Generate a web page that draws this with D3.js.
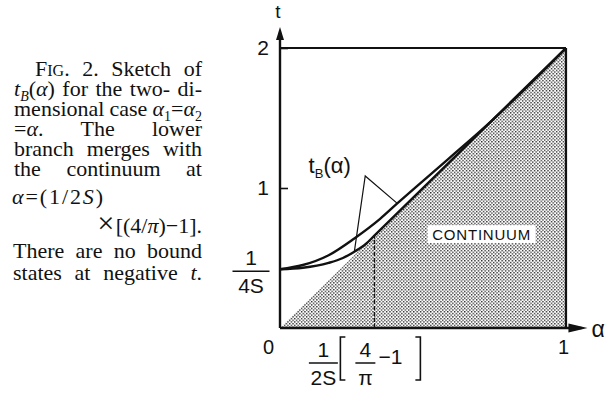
<!DOCTYPE html>
<html>
<head>
<meta charset="utf-8">
<script src="https://cdn.jsdelivr.net/npm/d3@7"></script>
<style>
  body { margin: 0; background: #fff; }
  svg { display: block; }
  .cap { font-family: "Liberation Serif", serif; font-size: 22px; fill: #111; }
  .lab { font-family: "Liberation Sans", sans-serif; fill: #111; }
</style>
</head>
<body>
<div id="wrapper"></div>
<script>
// upper branch of t_B(alpha)
const upperAlpha = [0, 0.08, 0.17, 0.26, 0.35, 0.41, 0.59, 0.74, 1];
const upperT     = [0.42, 0.45, 0.52, 0.64, 0.78, 0.89, 1.21, 1.48, 2];
// lower branch, runs into the continuum edge at alpha = 0.33
const lowerAlpha = [0, 0.08, 0.17, 0.22, 0.26, 0.30, 0.33, 1];
const lowerT     = [0.42, 0.43, 0.465, 0.50, 0.545, 0.60, 0.66, 2];
// continuum edge
const edgeAlpha = [0, 1];
const edgeT     = [0, 2];
const mergeAlpha = 0.33;
const quarterS = 0.42;   // 1/4S level
const xTicks = [0, 1];
const yTicks = [1, 2];

// caption, one entry per printed line; each word is a list of [text, style]
const caption = [
  { x0: 35, x1: 202, y: 76, words: [[["F", ""], ["IG", "sc"], [".", ""]], [["2.", ""]], [["Sketch", ""]], [["of", ""]]] },
  { x0: 14, x1: 202, y: 96, words: [[["t", "i"], ["B", "isub"], ["(", ""], ["α", "i"], [")", ""]], [["for", ""]], [["the", ""]], [["two-", ""]], [["di-", ""]]] },
  { x0: 14, x1: 202, y: 116, words: [[["mensional", ""]], [["case", ""]], [["α", "i"], ["1", "sub"], ["=", ""], ["α", "i"], ["2", "sub"]]] },
  { x0: 14, x1: 202, y: 136, words: [[["=", ""], ["α", "i"], [".", ""]], [["The", ""]], [["lower", ""]]] },
  { x0: 14, x1: 202, y: 156, words: [[["branch", ""]], [["merges", ""]], [["with", ""]]] },
  { x0: 14, x1: 202, y: 176, words: [[["the", ""]], [["continuum", ""]], [["at", ""]]] },
  { x0: 12, x1: 103, y: 204, words: [[["α", "i"], ["=(1/2", ""], ["S", "i"], [")", ""]]] },
  { x0: null, x1: 202, y: 233, words: [[["×", "big"], ["[(4/", ""], ["π", "i"], [")−1].", ""]]] },
  { x0: 13, x1: 202, y: 258, words: [[["There", ""]], [["are", ""]], [["no", ""]], [["bound", ""]]] },
  { x0: 13, x1: 202, y: 280, words: [[["states", ""]], [["at", ""]], [["negative", ""]], [["t", "i"], [".", ""]]] }
];

const W = 616, H = 393;
const svg = d3.select("#wrapper").append("svg").attr("width", W).attr("height", H);

const x = d3.scaleLinear().domain([0, 1]).range([280, 566]);
const y = d3.scaleLinear().domain([0, 2]).range([328, 48]);

// dotted pattern for the continuum
const defs = svg.append("defs");
const pat = defs.append("pattern").attr("id", "dots")
  .attr("width", 3.4).attr("height", 3.4).attr("patternUnits", "userSpaceOnUse");
pat.append("rect").attr("x", 0).attr("y", 0).attr("width", 1.35).attr("height", 1.35).attr("fill", "#222");
pat.append("rect").attr("x", 1.7).attr("y", 1.7).attr("width", 1.35).attr("height", 1.35).attr("fill", "#222");

const chart = svg.append("g");

// continuum area
const area = d3.area().x(d => x(d[0])).y0(y(0)).y1(d => y(d[1]));
chart.append("path")
  .attr("d", area(d3.zip(edgeAlpha, edgeT)))
  .attr("fill", "url(#dots)");

// frame: top at t=2 and right at alpha=1
chart.append("line").attr("x1", x(0)).attr("x2", x(1)).attr("y1", y(2)).attr("y2", y(2))
  .attr("stroke", "#111").attr("stroke-width", 2);
chart.append("line").attr("x1", x(1)).attr("x2", x(1)).attr("y1", y(0)).attr("y2", y(2))
  .attr("stroke", "#111").attr("stroke-width", 2.2);

// dashed line at merge point
chart.append("line")
  .attr("x1", x(mergeAlpha)).attr("x2", x(mergeAlpha))
  .attr("y1", y(0)).attr("y2", y(2 * mergeAlpha))
  .attr("stroke", "#111").attr("stroke-width", 1.4).attr("stroke-dasharray", "4,2");

// curves
const line = d3.line().x(d => x(d[0])).y(d => y(d[1])).curve(d3.curveMonotoneX);
chart.append("path").attr("d", line(d3.zip(lowerAlpha, lowerT)))
  .attr("fill", "none").attr("stroke", "#111").attr("stroke-width", 2.4);
chart.append("path").attr("d", line(d3.zip(upperAlpha, upperT)))
  .attr("fill", "none").attr("stroke", "#111").attr("stroke-width", 2.4);

// label t_B(alpha) with its two pointers
const anchor = [0.298, 1.086];
chart.append("path")
  .attr("d", d3.line()([[x(lowerAlpha[4]), y(lowerT[4])], [x(anchor[0]), y(anchor[1])], [x(upperAlpha[5]), y(upperT[5])]]))
  .attr("fill", "none").attr("stroke", "#111").attr("stroke-width", 1.2);
const tb = chart.append("text").attr("class", "lab")
  .attr("x", x(0.1)).attr("y", y(1.11)).style("font-size", "22px");
tb.append("tspan").text("t");
tb.append("tspan").text("B").attr("dy", 5).style("font-size", "13px");
tb.append("tspan").text("(α)").attr("dy", -5);

// CONTINUUM label
chart.append("rect").attr("x", x(0.705) - 54).attr("y", y(0.67) - 9)
  .attr("width", 108).attr("height", 18).attr("fill", "#fff");
chart.append("text").attr("class", "lab")
  .attr("x", x(0.705)).attr("y", y(0.67) + 6)
  .attr("text-anchor", "middle").style("font-size", "15px").style("letter-spacing", "0.8px")
  .text("CONTINUUM");

// axes
const yAxis = d3.axisLeft(y).tickValues(yTicks).tickSize(-8).tickPadding(11).tickFormat(d3.format("d"));
const yG = chart.append("g").attr("transform", `translate(${x(0)},0)`).call(yAxis);
yG.select(".domain").remove();
yG.selectAll(".tick line").attr("stroke", "#111").attr("stroke-width", 1.6);
yG.selectAll(".tick text").attr("class", "lab").style("font-size", "21px").attr("font-family", null);

const xAxis = d3.axisBottom(x).tickValues(xTicks).tickSize(0).tickPadding(12).tickFormat(d3.format("d"));
const xG = chart.append("g").attr("transform", `translate(0,${y(0)})`).call(xAxis);
xG.select(".domain").remove();
xG.selectAll(".tick text").attr("class", "lab").style("font-size", "20px").attr("font-family", null)
  .attr("dx", d => d === 0 ? -12 : -3);

// axis lines with arrow heads
const tTop = 2.15, aEnd = 1.075;
chart.append("line").attr("x1", x(0)).attr("x2", x(0)).attr("y1", y(0)).attr("y2", y(tTop) + 6)
  .attr("stroke", "#111").attr("stroke-width", 2.4);
chart.append("line").attr("x1", x(0)).attr("x2", x(aEnd) - 6).attr("y1", y(0)).attr("y2", y(0))
  .attr("stroke", "#111").attr("stroke-width", 2.4);
chart.append("path")
  .attr("d", `M${x(0)},${y(tTop)} L${x(0) + 4},${y(tTop) + 13} L${x(0) - 4},${y(tTop) + 13} Z`)
  .attr("fill", "#111");
chart.append("path")
  .attr("d", `M${x(aEnd)},${y(0)} L${x(aEnd) - 19},${y(0) - 4.5} L${x(aEnd) - 19},${y(0) + 4.5} Z`)
  .attr("fill", "#111");
chart.append("text").attr("class", "lab").attr("x", x(0) - 2).attr("y", 18)
  .attr("text-anchor", "middle").style("font-size", "19px").text("t");
chart.append("text").attr("class", "lab").attr("x", x(aEnd) + 4).attr("y", y(0) + 9)
  .style("font-size", "23px").text("α");

// fraction helper
function fraction(cx, ly, num, den, w, size) {
  chart.append("line").attr("x1", cx - w / 2).attr("x2", cx + w / 2).attr("y1", ly).attr("y2", ly)
    .attr("stroke", "#111").attr("stroke-width", 1.5);
  chart.append("text").attr("class", "lab").attr("x", cx).attr("y", ly - 6)
    .attr("text-anchor", "middle").style("font-size", size + "px").text(num);
  chart.append("text").attr("class", "lab").attr("x", cx).attr("y", ly + 22)
    .attr("text-anchor", "middle").style("font-size", size + "px").text(den);
}
// 1/4S on the t axis
fraction(x(0) - 29, y(quarterS) + 2, "1", "4S", 37, 21);
// 1/2S [4/pi - 1] on the alpha axis
const fx = x(mergeAlpha);
fraction(fx - 51, 363, "1", "2S", 29, 21);
fraction(fx - 9, 363, "4", "π", 20, 21);
chart.append("path").attr("d", `M${fx - 29},337 L${fx - 34},337 L${fx - 34},380 L${fx - 29},380`)
  .attr("fill", "none").attr("stroke", "#111").attr("stroke-width", 1.6);
chart.append("text").attr("class", "lab").attr("x", fx + 4).attr("y", 364)
  .style("font-size", "21px").text("−1");
chart.append("path").attr("d", `M${fx + 41},337 L${fx + 46},337 L${fx + 46},380 L${fx + 41},380`)
  .attr("fill", "none").attr("stroke", "#111").attr("stroke-width", 1.6);

// caption, justified word by word
const cap = svg.append("g");
caption.forEach(ln => {
  const words = ln.words.map(w => {
    const t = cap.append("text").attr("class", "cap").attr("y", ln.y);
    w.forEach(([s, st]) => {
      const sp = t.append("tspan").text(s);
      if (st.includes("i")) sp.style("font-style", "italic");
      if (st === "sc") sp.style("font-size", "16px");
      if (st === "big") sp.style("font-size", "30px");
      if (st.includes("sub")) sp.style("font-size", "14px").attr("dy", 5);
    });
    // undo subscript shifts for following tspans
    let shift = 0;
    t.selectAll("tspan").each(function () {
      const d = +d3.select(this).attr("dy") || 0;
      if (shift && !d) { d3.select(this).attr("dy", -shift); shift = 0; }
      else shift += d;
    });
    return t;
  });
  if (words.length === 1) {
    if (ln.x0 === null) {
      // right aligned formula
      words[0].attr("x", ln.x1).attr("text-anchor", "end");
    } else {
      words[0].attr("x", ln.x0).attr("textLength", ln.x1 - ln.x0).attr("lengthAdjust", "spacing");
    }
    return;
  }
  const widths = words.map(t => t.node().getComputedTextLength());
  const gap = (ln.x1 - ln.x0 - d3.sum(widths)) / (words.length - 1);
  let cx = ln.x0;
  words.forEach((t, i) => { t.attr("x", cx); cx += widths[i] + gap; });
});
</script>
</body>
</html>
